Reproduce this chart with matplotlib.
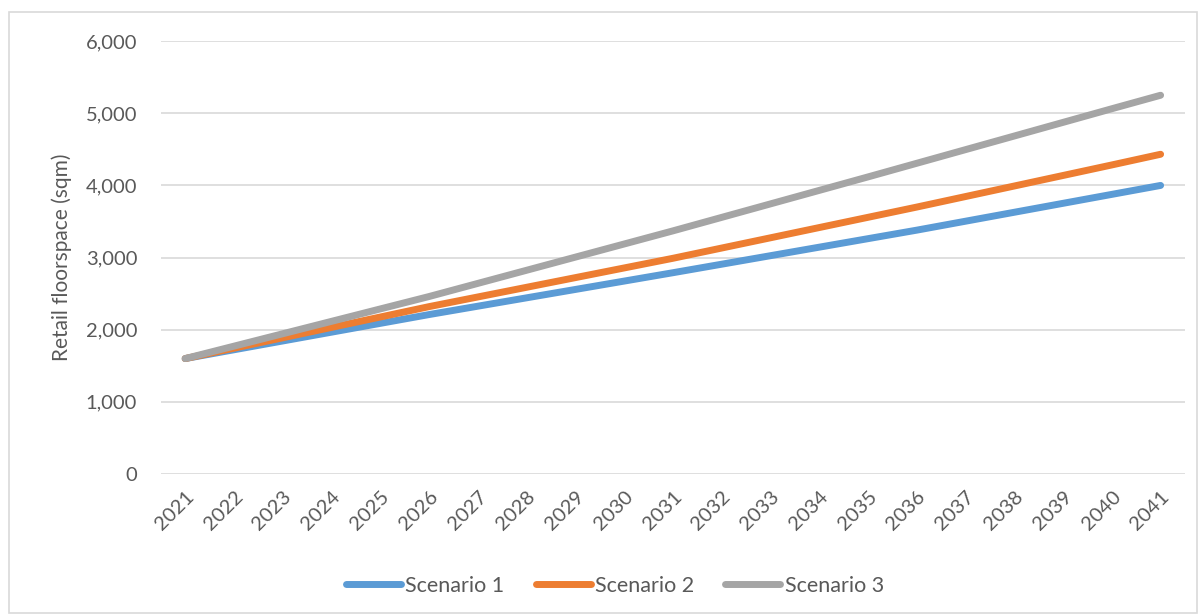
# Retail floorspace projections, three scenarios, 2021-2041
import matplotlib.pyplot as plt
from matplotlib.patches import Rectangle

# data
years = list(range(2021, 2042))
scenario_1 = [1600, 1722, 1844, 1966, 2088, 2210, 2326, 2442, 2558, 2674, 2790,
              2908, 3026, 3144, 3262, 3380, 3504, 3628, 3752, 3876, 4000]
scenario_2 = [1600, 1744, 1888, 2032, 2176, 2320, 2454, 2588, 2722, 2856, 2990,
              3132, 3274, 3416, 3558, 3700, 3846, 3992, 4138, 4284, 4432]
scenario_3 = [1600, 1772, 1944, 2116, 2288, 2460, 2642, 2824, 3006, 3188, 3370,
              3557, 3744, 3931, 4118, 4307, 4496, 4685, 4874, 5063, 5250]
series_names = ['Scenario 1', 'Scenario 2', 'Scenario 3']
y_ticks = [0, 1000, 2000, 3000, 4000, 5000, 6000]

colors = ['#5B9BD5', '#ED7D31', '#A5A5A5']
text_color = '#595959'
plt.rcParams['font.family'] = ['Lato', 'DejaVu Sans']

fig = plt.figure(figsize=(12, 6.14), dpi=100)
ax = fig.add_axes([0.134, 0.228, 0.8535, 0.705])

# chart border
fig.patches.append(Rectangle((0.0075, 0.002), 0.99, 0.978, transform=fig.transFigure,
                             fill=False, edgecolor='#D9D9D9', linewidth=1.2))

for vals, name, c in zip([scenario_1, scenario_2, scenario_3], series_names, colors):
    ax.plot(years, vals, color=c, linewidth=5, solid_capstyle='round',
            solid_joinstyle='round', label=name)

ax.set_xlim(years[0] - 0.5, years[-1] + 0.5)
ax.set_ylim(0, 6000)
ax.set_yticks(y_ticks)
ax.set_yticklabels([f'{v:,}' for v in y_ticks])
ax.set_xticks(years)
ax.set_xticklabels([str(y) for y in years], rotation=45, ha='right',
                   rotation_mode='anchor')

ax.grid(axis='y', color='#D9D9D9', linewidth=1.2)
ax.set_axisbelow(True)
for s in ax.spines.values():
    s.set_visible(False)
ax.tick_params(axis='both', length=0, labelsize=14.5, colors=text_color)
ax.tick_params(axis='y', pad=17)
ax.tick_params(axis='x', pad=10)

ax.set_ylabel('Retail floorspace (sqm)', fontsize=15, color=text_color, labelpad=10)

leg = fig.legend(loc='center', bbox_to_anchor=(0.5125, 0.046), ncol=3, frameon=False,
                 fontsize=15.5, handlelength=2.55, handletextpad=0.2, columnspacing=1.45)
for t in leg.get_texts():
    t.set_color(text_color)

fig.savefig('out.png', dpi=100)
